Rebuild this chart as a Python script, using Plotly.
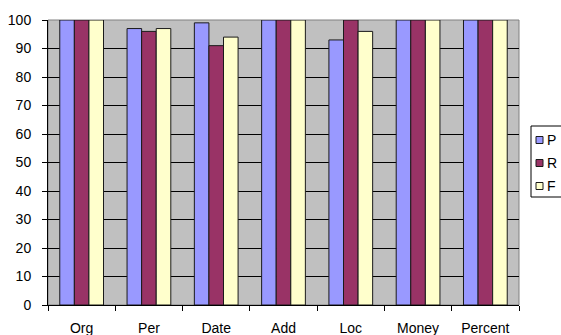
import plotly.graph_objects as go

categories = ["Org", "Per", "Date", "Add", "Loc", "Money", "Percent"]
precision = [100, 97, 99, 100, 93, 100, 100]
recall = [100, 96, 91, 100, 100, 100, 100]
fmeasure = [100, 97, 94, 100, 96, 100, 100]
series_names = ["Precision", "Recall", "F-measure"]
legend_labels = ["P", "R", "F"]  # visible (truncated) legend text
series_colors = ["#9999FF", "#993366", "#FFFFCC"]
y_ticks = list(range(0, 101, 10))

W, H = 561, 335
L, R, T, B = 48, 42, 30, 30
L, R, T, B = 48, 42, 20, 30
PW, PH = W - L - R, H - T - B


def px(x):
    return (x - L) / PW


def py(y):
    return (H - B - y) / PH


fig = go.Figure()
for name, vals, col in zip(series_names, [precision, recall, fmeasure], series_colors):
    fig.add_trace(go.Bar(
        x=categories, y=vals, name=name, showlegend=False,
        marker=dict(color=col, line=dict(color="#1a1a1a", width=1)),
    ))

shapes = [dict(type="rect", xref="paper", yref="paper", x0=0, x1=1, y0=0, y1=1,
               line=dict(color="#808080", width=1), layer="below")]
# legend box (cut by the right edge as in the reference)
shapes.append(dict(type="rect", xref="paper", yref="paper",
                   x0=px(531), x1=px(600), y0=py(197), y1=py(126),
                   line=dict(color="black", width=1), fillcolor="white"))
annotations = []
rows = [140, 163, 186]
for lab, col, yc in zip(legend_labels, series_colors, rows):
    shapes.append(dict(type="rect", xref="paper", yref="paper",
                       x0=px(536), x1=px(543), y0=py(yc + 3.5), y1=py(yc - 3.5),
                       line=dict(color="#1a1a1a", width=1), fillcolor=col))
    annotations.append(dict(xref="paper", yref="paper", x=px(545), y=py(yc),
                            xanchor="left", yanchor="middle", text=lab,
                            showarrow=False, font=dict(size=14, color="black")))

fig.update_layout(
    width=W, height=H,
    margin=dict(l=L, r=R, t=T, b=B, autoexpand=False),
    paper_bgcolor="white",
    plot_bgcolor="#C0C0C0",
    barmode="group", bargap=0.35, bargroupgap=0,
    font=dict(family="Liberation Sans, Arial, sans-serif", size=14, color="black"),
    showlegend=False,
    xaxis=dict(
        showgrid=False, tickson="boundaries", ticks="outside", ticklen=5,
        tickcolor="black", showline=True, linecolor="black", linewidth=1,
        ticklabelstandoff=10,
    ),
    yaxis=dict(
        range=[0, 100], tickvals=y_ticks, ticks="outside", ticklen=5,
        tickcolor="black", showgrid=True, gridcolor="black", gridwidth=1,
        showline=True, linecolor="black", linewidth=1, zeroline=False,
        ticklabelstandoff=8,
    ),
    shapes=shapes,
    annotations=annotations,
)

fig.write_html("out.html")
